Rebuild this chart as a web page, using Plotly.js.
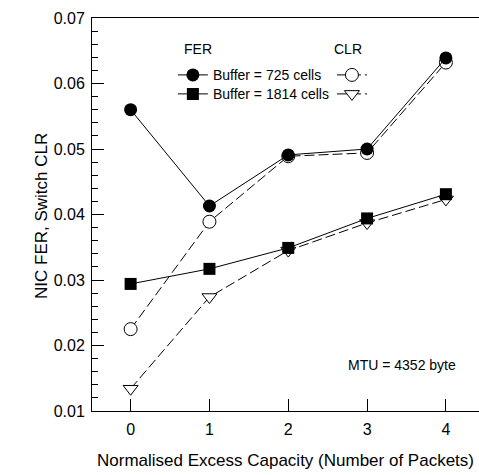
<!DOCTYPE html>
<html>
<head>
<meta charset="utf-8">
<script src="https://cdn.plot.ly/plotly-3.0.1.min.js"></script>
<style>html,body{margin:0;padding:0;background:#fff;}#chart{width:479px;height:475px;}</style>
</head>
<body>
<div id="chart"></div>
<script>
// Data
const excessCapacity = [0, 1, 2, 3, 4];
const ferBuffer725  = [0.0560, 0.0413, 0.0491, 0.0500, 0.0639];
const ferBuffer1814 = [0.0294, 0.0317, 0.0349, 0.0394, 0.0431];
const clrBuffer725  = [0.0225, 0.0389, 0.0489, 0.0494, 0.0632];
const clrBuffer1814 = [0.0134, 0.0274, 0.0345, 0.0387, 0.0423];
const seriesNames = ["Buffer = 725 cells", "Buffer = 1814 cells"];
const yTickValues = [0.01, 0.02, 0.03, 0.04, 0.05, 0.06, 0.07];
const yTickLabels = ["0.01", "0.02", "0.03", "0.04", "0.05", "0.06", "0.07"];
const xTickValues = [0, 1, 2, 3, 4];
const xTickLabels = ["0", "1", "2", "3", "4"];

const FONT = "Liberation Sans, Arial, Helvetica, sans-serif";
const dashStyle = "10px,4px";

const traces = [
  {
    x: excessCapacity, y: clrBuffer725, name: " ", legend: "legend3",
    mode: "lines+markers",
    line: {color: "black", width: 1, dash: dashStyle},
    marker: {symbol: "circle", size: 13, color: "white", line: {color: "black", width: 1}}
  },
  {
    x: excessCapacity, y: clrBuffer1814, name: "  ", legend: "legend4",
    mode: "lines+markers",
    line: {color: "black", width: 1, dash: dashStyle},
    marker: {symbol: "triangle-down", size: 13, color: "white", line: {color: "black", width: 1}}
  },
  {
    x: excessCapacity, y: ferBuffer725, name: seriesNames[0], legend: "legend",
    mode: "lines+markers",
    line: {color: "black", width: 1},
    marker: {symbol: "circle", size: 13, color: "black"}
  },
  {
    x: excessCapacity, y: ferBuffer1814, name: seriesNames[1], legend: "legend2",
    mode: "lines+markers",
    line: {color: "black", width: 1},
    marker: {symbol: "square", size: 12, color: "black"}
  }
];

function legendAt(px, py) {
  return {
    x: (px - 92) / 387, y: (411 - py) / 393, xanchor: "left", yanchor: "top",
    bgcolor: "rgba(0,0,0,0)", borderwidth: 0,
    font: {size: 14, family: FONT}, itemwidth: 30
  };
}

const layout = {
  width: 479, height: 475,
  margin: {l: 92, r: 0, t: 18, b: 64},
  paper_bgcolor: "white", plot_bgcolor: "white",
  font: {family: FONT, color: "black", size: 14},
  showlegend: true,
  xaxis: {
    range: [-0.49, 4.42],
    tickvals: xTickValues, ticktext: xTickLabels,
    ticks: "inside", ticklen: 12, tickwidth: 1, tickcolor: "black",
    showline: true, linecolor: "black", linewidth: 1, mirror: true,
    showgrid: false, zeroline: false,
    tickfont: {size: 16, family: FONT},
    ticklabelstandoff: 4,
    title: {text: "Normalised Excess Capacity (Number of Packets)", font: {size: 17, family: FONT}, standoff: 16}
  },
  yaxis: {
    range: [0.01, 0.07],
    tickvals: yTickValues, ticktext: yTickLabels,
    ticks: "inside", ticklen: 12, tickwidth: 1, tickcolor: "black",
    minor: {dtick: 0.002, ticks: "inside", ticklen: 6, tickwidth: 1, tickcolor: "black", showgrid: false},
    showline: true, linecolor: "black", linewidth: 1,
    showgrid: false, zeroline: false,
    tickfont: {size: 16, family: FONT},
    ticklabelstandoff: 3
  },
  legend: legendAt(92 + 0.209 * 387, 59.3),
  legend2: legendAt(92 + 0.209 * 387, 78.3),
  legend3: legendAt(92 + 0.62 * 387, 59.3),
  legend4: legendAt(92 + 0.62 * 387, 78.3),
  annotations: [
    {xref: "paper", yref: "paper", x: (42 - 92) / 387, y: (411 - 216) / 393, xanchor: "center", yanchor: "middle",
     text: "NIC FER, Switch CLR", textangle: -90, showarrow: false, font: {size: 17, family: FONT}},
    {xref: "paper", yref: "paper", x: (182 - 92) / 387, y: (411 - 49) / 393, xanchor: "left", yanchor: "middle",
     text: "FER", showarrow: false, font: {size: 14, family: FONT}},
    {xref: "paper", yref: "paper", x: (332 - 92) / 387, y: (411 - 49) / 393, xanchor: "left", yanchor: "middle",
     text: "CLR", showarrow: false, font: {size: 14, family: FONT}},
    {xref: "paper", yref: "paper", x: (346 - 92) / 387, y: (411 - 365) / 393, xanchor: "left", yanchor: "middle",
     text: "MTU = 4352 byte", showarrow: false, font: {size: 14, family: FONT}}
  ]
};

Plotly.newPlot("chart", traces, layout, {displayModeBar: false, staticPlot: true});
</script>
</body>
</html>
